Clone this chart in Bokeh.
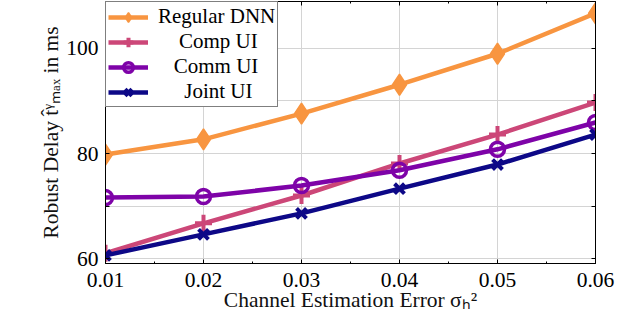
from bokeh.plotting import figure
from bokeh.models import Range1d, LinearAxis, Legend, LegendItem, SingleIntervalTicker
from bokeh.embed import file_html
from bokeh.resources import INLINE

# ---- data ----
sigma2 = [0.01, 0.02, 0.03, 0.04, 0.05, 0.06]
regular_dnn = [79.8, 82.7, 87.6, 93.1, 99.0, 106.7]
comp_ui = [61.0, 66.7, 72.0, 78.1, 83.6, 89.7]
comm_ui = [71.6, 71.8, 73.9, 76.8, 80.8, 85.9]
joint_ui = [60.6, 64.6, 68.6, 73.3, 77.9, 83.6]
series_names = ["Regular DNN", "Comp UI", "Comm UI", "Joint UI"]
legend_pad = [0, 4, 3, 5]  # non-breaking spaces used to centre the legend labels
colors = ["#f89540", "#cc4778", "#7e03a8", "#0d0887"]
y_hidden_labels = {70: "", 90: ""}

FONT = "'Liberation Serif', 'Times New Roman', serif"

p = figure(width=624, height=317, output_backend="svg", toolbar_location=None,
           x_range=Range1d(0.01, 0.06), y_range=Range1d(59.05, 108.95),
           min_border_left=105, min_border_right=29, min_border_top=1, min_border_bottom=54,
           background_fill_color="white", border_fill_color="white")
p.outline_line_color = "black"
p.outline_line_width = 1

xt = SingleIntervalTicker(interval=0.01, num_minor_ticks=2)
yt = SingleIntervalTicker(interval=10, num_minor_ticks=0)

p.xaxis.ticker = xt
p.yaxis.ticker = yt
p.yaxis.major_label_overrides = y_hidden_labels
for ax in (p.xaxis[0], p.yaxis[0]):
    ax.major_tick_in = 4
    ax.major_tick_out = 0
    ax.minor_tick_in = 2
    ax.minor_tick_out = 0
    ax.major_label_text_font = FONT
    ax.major_label_text_font_size = "21.5px"
    ax.major_label_text_color = "black"
    ax.axis_label_text_font = FONT
    ax.axis_label_text_font_size = "21.5px"
    ax.axis_label_text_font_style = "normal"
    ax.axis_label_text_color = "#111111"
    ax.axis_line_color = "black"
    ax.major_tick_line_color = "black"
    ax.minor_tick_line_color = "black"
p.xaxis.major_label_standoff = 9
p.xaxis.axis_label_standoff = -2
p.yaxis.major_label_standoff = 7
p.yaxis.axis_label_standoff = 0
p.xaxis.axis_label = "Channel Estimation Error σₕ²"
p.yaxis.axis_label = "Robust Delay t̂ᵞₘₐₓ in ms"

# mirrored tick axes (labels not drawn)
top = LinearAxis(ticker=SingleIntervalTicker(interval=0.01, num_minor_ticks=2),
                 major_label_text_font_size="1px", major_label_text_color=None,
                 major_label_standoff=0,
                 major_tick_in=4, major_tick_out=0, minor_tick_in=2, minor_tick_out=0,
                 axis_line_color="black")
right = LinearAxis(ticker=SingleIntervalTicker(interval=10, num_minor_ticks=0),
                   major_label_text_font_size="1px", major_label_text_color=None,
                   major_label_standoff=0,
                   major_tick_in=4, major_tick_out=0, minor_tick_in=0, minor_tick_out=0,
                   axis_line_color="black")
p.add_layout(top, "above")
p.add_layout(right, "right")

p.grid.grid_line_color = "#d4d4d4"
p.grid.grid_line_width = 1
p.xgrid.ticker = xt
p.ygrid.ticker = yt

data = [regular_dnn, comp_ui, comm_ui, joint_ui]
items = []
for name, pad, ys, c in zip(series_names, legend_pad, data, colors):
    ln = p.line(sigma2, ys, line_color=c, line_width=4.5)
    if name == "Regular DNN":
        mk = p.scatter(sigma2, ys, marker="diamond", size=21, fill_color=c, line_color=c, line_width=1.5)
    elif name == "Comp UI":
        mk = p.scatter(sigma2, ys, marker="cross", size=17, line_color=c, line_width=4)
    elif name == "Comm UI":
        mk = p.scatter(sigma2, ys, marker="circle", size=14, fill_color=None, line_color=c, line_width=3.5)
    else:
        mk = p.scatter(sigma2, ys, marker="x", size=14, line_color=c, line_width=4)
    items.append(LegendItem(label="\u00a0" * pad + name, renderers=[ln, mk]))

legend = Legend(items=items, location="top_left")
legend.margin = 0
legend.padding = 2
legend.spacing = 0
legend.border_line_color = "black"
legend.border_line_width = 1
legend.background_fill_alpha = 1
legend.glyph_width = 40
legend.glyph_height = 24
legend.label_height = 20
legend.label_standoff = 10
legend.label_text_font = FONT
legend.label_text_font_size = "21px"
legend.label_text_color = "black"
p.add_layout(legend, "center")

open("out.html", "w").write(file_html(p, INLINE))
